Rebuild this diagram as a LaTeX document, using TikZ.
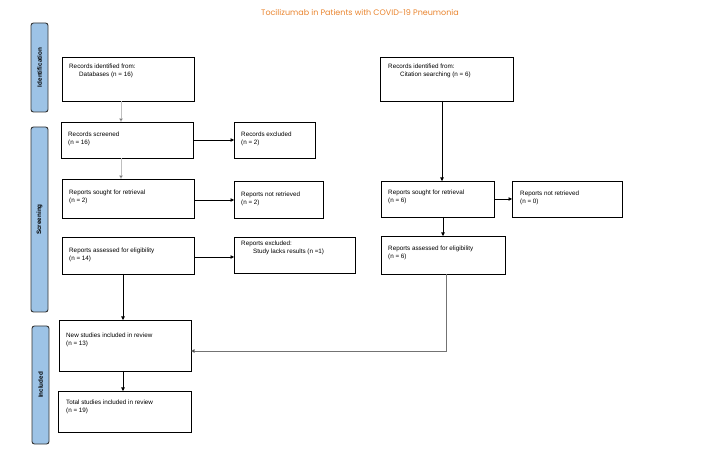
\documentclass[tikz,border=0pt]{standalone}
\usepackage{fontspec}
\setmainfont{Liberation Sans}
\newfontfamily\titlefont{Poppins}
\usetikzlibrary{arrows.meta}
\definecolor{barblue}{HTML}{9DC3E6}
\definecolor{titleor}{HTML}{E9842E}
\begin{document}
\begin{tikzpicture}[x=1pt,y=-1pt,
  box/.style={draw,line width=0.9pt,minimum width=0pt},
  txt/.style={anchor=north west,font=\fontsize{6.3}{7.6}\selectfont,align=left,inner sep=0pt},
  bar/.style={draw=black!80,fill=barblue,rounded corners=2.5pt,line width=0.9pt},
  btxt/.style={rotate=90,font=\bfseries\fontsize{6.3}{7}\selectfont},
  arr/.style={-{Triangle[length=3.5pt,width=3.5pt]},line width=0.6pt},
  garr/.style={arr,draw=black!25,-{Triangle[length=3.5pt,width=3.5pt,fill=black]}}]
\useasboundingbox (0,0) rectangle (702,454);
\node[font=\titlefont\fontsize{8}{9}\selectfont,text=titleor] (title) at (360,12) {Tocilizumab in Patients with COVID-19 Pneumonia};
% side bars
\draw[bar] (31,23) rectangle (48,112); \node[btxt] (bi) at (39.5,67.5) {Identification};
\draw[bar] (31,127) rectangle (48,312); \node[btxt] (bs) at (39.5,219.5) {Screening};
\draw[bar] (32,326) rectangle (49,444); \node[btxt] (bn) at (40.5,385) {Included};
% boxes
\newcommand\bx[5]{\draw[box] (#2,#3) rectangle (#4,#5); \coordinate (#1-nw) at (#2,#3);
  \path (#2,#3) -- (#4,#5) coordinate[pos=0.5] (#1);
  \coordinate (#1-n) at ({(#2+#4)/2},#3); \coordinate (#1-s) at ({(#2+#4)/2},#5);
  \coordinate (#1-e) at (#4,{(#3+#5)/2}); \coordinate (#1-w) at (#2,{(#3+#5)/2});}
\bx{A}{62}{57}{194}{101}
\node[txt] (tA) at (69,64) {Records identified from:\\\hspace{10pt}Databases (n = 16)};
\bx{B}{61}{122}{193}{158}
\node[txt] (tB) at (68,132) {Records screened\\(n = 16)};
\bx{C}{234}{122}{315}{158}
\node[txt] (tC) at (241,132) {Records excluded\\(n = 2)};
\bx{D}{62}{179}{194}{218}
\node[txt] (tD) at (69,190) {Reports sought for retrieval\\(n = 2)};
\bx{E}{234}{181}{323}{218}
\node[txt] (tE) at (241,192) {Reports not retrieved\\(n = 2)};
\bx{F}{62}{237}{194}{274}
\node[txt] (tF) at (69,248) {Reports assessed for eligibility\\(n = 14)};
\bx{G}{234}{237}{355}{273}
\node[txt] (tG) at (241,241) {Reports excluded:\\\hspace{12pt}Study lacks results (n =1)};
\bx{H}{59}{320}{191}{371}
\node[txt] (tH) at (66,333) {New studies included in review\\(n = 13)};
\bx{I}{58}{391}{191}{432}
\node[txt] (tI) at (66,400) {Total studies included in review\\(n = 19)};
\bx{J}{380}{57}{513}{101}
\node[txt] (tJ) at (388,64) {Records identified from:\\\hspace{12pt}Citation searching (n = 6)};
\bx{K}{381}{181}{494}{217}
\node[txt] (tK) at (388,190) {Reports sought for retrieval\\(n = 6)};
\bx{L}{512}{181}{622}{217}
\node[txt] (tL) at (520,191) {Reports not retrieved\\(n = 0)};
\bx{M}{381}{236}{505}{274}
\node[txt] (tM) at (388,246) {Reports assessed for eligibility\\(n = 6)};
% connectors
\draw[garr] (121,101) -- (121,122);
\draw[garr] (121,158) -- (121,179);
\draw[arr] (B-e) -- (C-w);
\draw[arr] (194,200) -- (234,200);
\draw[arr] (194,257) -- (234,257);
\draw[arr] (123,274) -- (123,320);
\draw[arr] (123,371) -- (123,391);
\draw[arr] (442,101) -- (442,181);
\draw[arr] (494,199) -- (512,199);
\draw[arr] (443,217) -- (443,236);
\draw[arr,draw=black!55,-{Triangle[length=3.5pt,width=3.5pt,fill=black]}] (446,274) -- (446,351) -- (191,351);
\end{tikzpicture}
\end{document}
